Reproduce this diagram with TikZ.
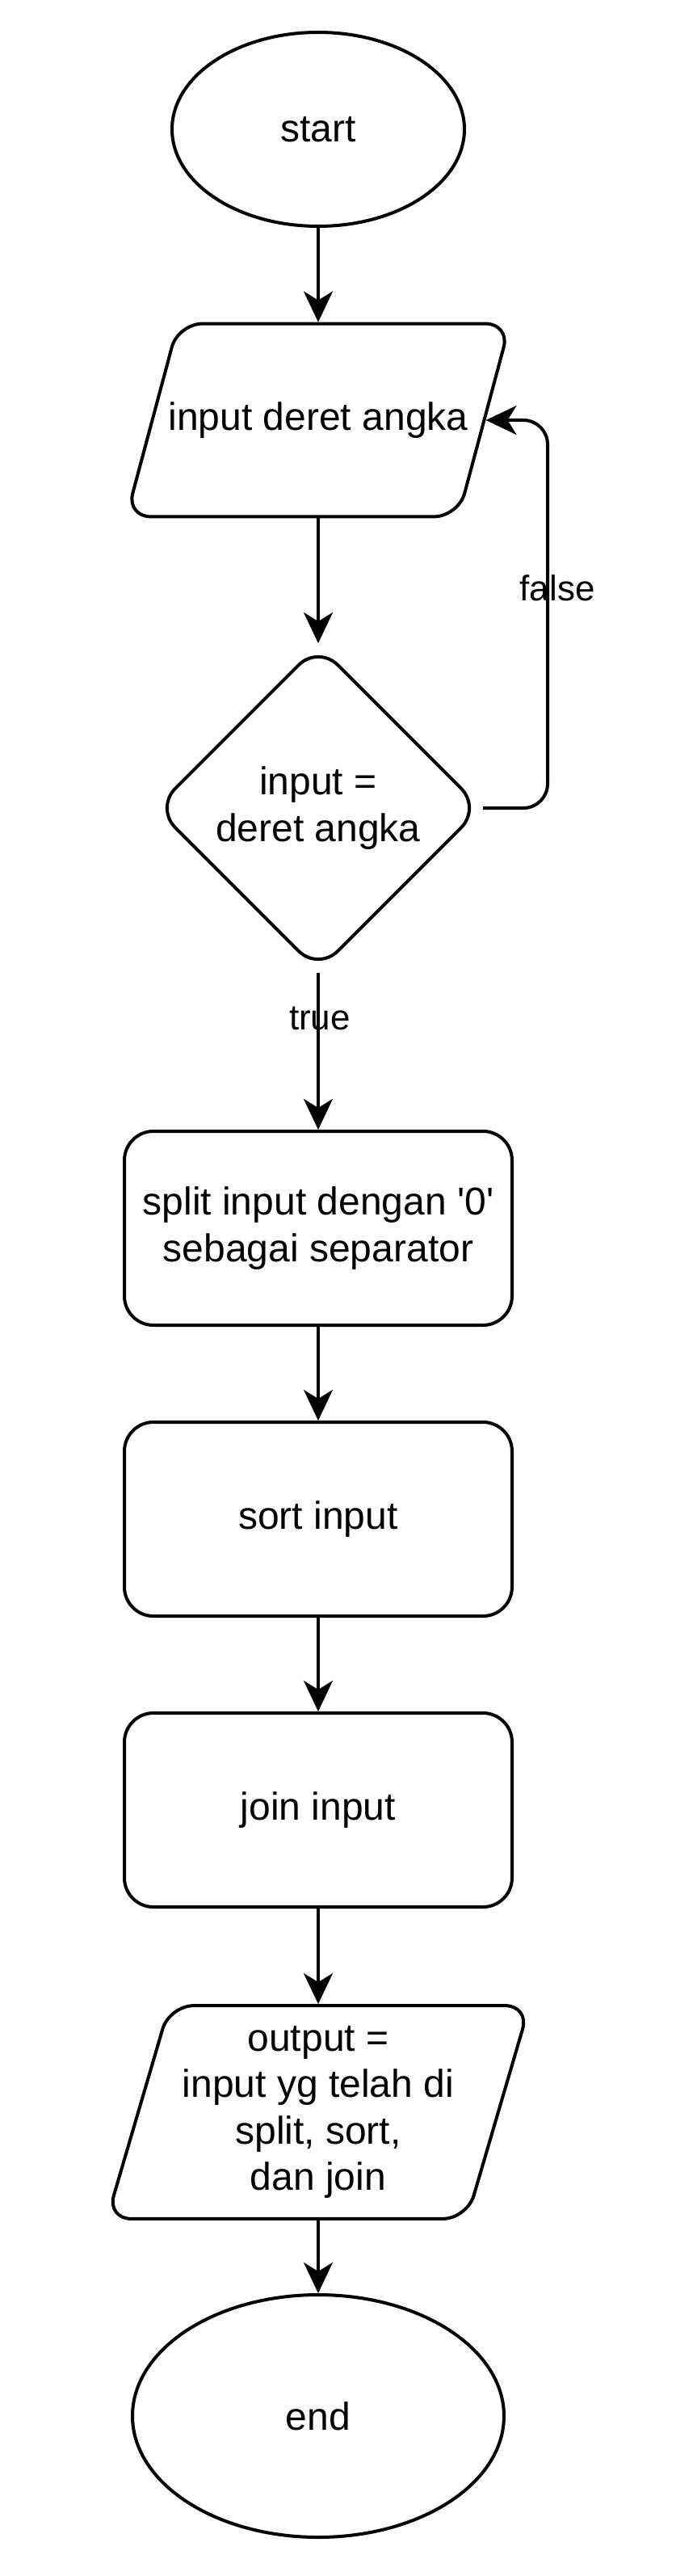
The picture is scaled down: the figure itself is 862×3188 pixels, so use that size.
\documentclass[tikz,border=0pt]{standalone}
\usepackage{fontspec}
\setmainfont{Liberation Sans}[Ligatures=TeXOff]
\usetikzlibrary{shapes.geometric,arrows.meta}

\tikzset{
	base/.style={draw, line width=2pt, align=center, inner sep=0pt,
		font=\fontsize{24}{28.8}\selectfont},
	terminal/.style={base, ellipse},
	inout/.style={base, trapezium, trapezium left angle=75, trapezium right angle=105,
		trapezium stretches=true, rounded corners=15pt},
	decision/.style={base, diamond, aspect=1, rounded corners=17pt,
		minimum width=202pt, minimum height=202pt},
	process/.style={base, rectangle, rounded corners=18pt,
		minimum width=240pt, minimum height=120pt},
	arrow/.style={line width=2pt, -{Stealth[length=19pt,width=18pt,inset=5.5pt]}},
	edgelabel/.style={font=\fontsize{22}{26.4}\selectfont}
}

\begin{document}
\begin{tikzpicture}[x=0.5pt, y=-0.5pt]

	\useasboundingbox (0,0) rectangle (862,3188);

	% shapes, top to bottom
	\node[terminal, minimum width=181pt, minimum height=120pt] (start) at (394,160) {start};
	\node[inout, inner ysep=48.5pt, inner xsep=-6pt] (inp) at (394,520) {input deret angka};
	\node[decision] (check) at (394,1000) {input =\\deret angka};
	\node[process] (split) at (394,1520) {split input dengan '0'\\sebagai separator};
	\node[process] (sort) at (394,1880) {sort input};
	\node[process] (join) at (394,2240) {join input};
	\node[inout, inner ysep=12.5pt, minimum width=262pt] (outp) at (394,2614)
		{output =\\input yg telah di\\split, sort,\\dan join};
	\node[terminal, minimum width=230pt, minimum height=150pt] (stop) at (394,2990) {end};

	% connectors
	\draw[arrow] (start) -- (inp);
	\draw[arrow] (inp) -- (check);
	\draw[arrow, rounded corners=15pt] (check.east) -- ++(80,0) |- (inp.east);
		\node[edgelabel] (lfalse) at (690,728) {false};
	\draw[arrow] (check.south) -- (split.north);
		\node[edgelabel] (ltrue) at (396,1260) {true};
	\draw[arrow] (split) -- (sort);
	\draw[arrow] (sort) -- (join);
	\draw[arrow] (join) -- (outp);
	\draw[arrow] (outp) -- (stop);

\end{tikzpicture}
\end{document}
